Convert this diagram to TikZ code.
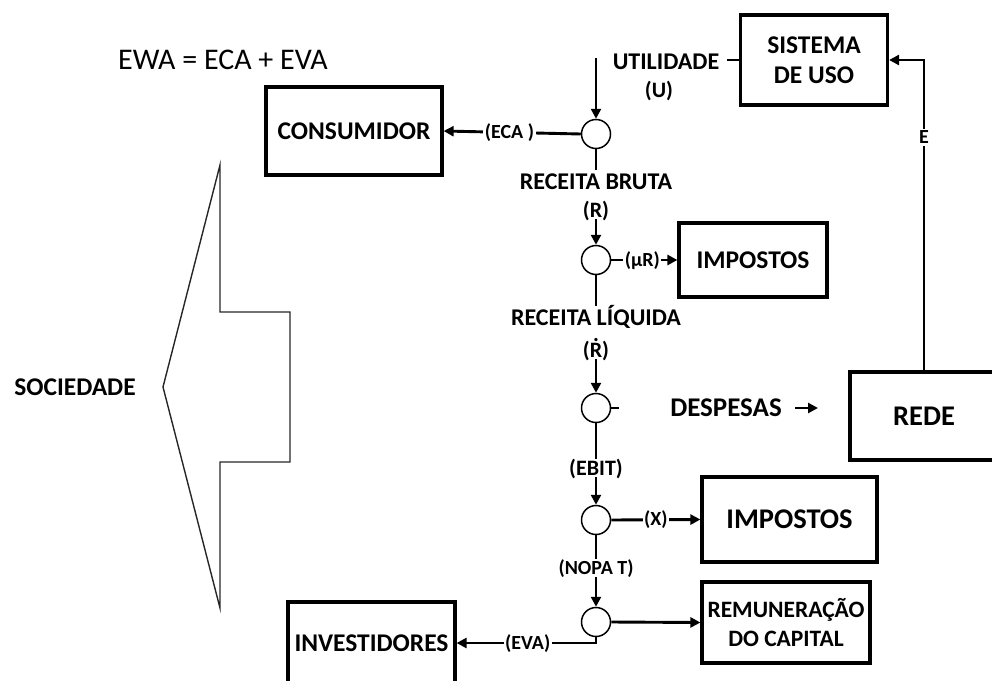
\documentclass[tikz,border=0pt]{standalone}
\usepackage{fontspec}
\setmainfont{Carlito}
\usetikzlibrary{arrows.meta}
\newcommand\Rdotted{\ooalign{R\cr\hidewidth\raisebox{0.70em}{.}\hidewidth\cr}}
\begin{document}
\begin{tikzpicture}[x=1pt,y=-1pt,
  bx/.style={draw, line width=3.2pt, align=center, inner sep=0pt,
             font=\bfseries\fontsize{25.5}{30}\selectfont},
  bigbx/.style={bx, font=\bfseries\fontsize{28.5}{32}\selectfont},
  lbl/.style={font=\bfseries\fontsize{24}{28}\selectfont, inner sep=4pt,
              text height=15.5pt, text depth=0pt},
  mid/.style={font=\bfseries\fontsize{22}{24}\selectfont, inner sep=2pt,
              text height=14pt, text depth=0pt},
  sm/.style={font=\bfseries\fontsize{20}{22}\selectfont, fill=white,
             inner sep=1.5pt, text height=13pt, text depth=1pt},
  junc/.style={circle, draw, line width=1.5pt, minimum size=29pt,
               inner sep=0pt, fill=white},
  conn/.style={line width=2.9pt},
  arr/.style={conn, -{Triangle[length=10pt,width=10pt]}}
]
\useasboundingbox (0,0) rectangle (992,680);
\clip (0,0) rectangle (992,680);

% title and society arrow
\node[font=\fontsize{30}{32}\selectfont] (ewa) at (223,60) {EWA = ECA + EVA};
\node[font=\bfseries\fontsize{25.5}{28}\selectfont] (soc) at (75,387) {SOCIEDADE};
\draw[line width=1.4pt, draw=black!85, line join=miter]
  (163,387) -- (220,165) -- (220,312) -- (290,312) -- (290,462)
  -- (220,462) -- (220,608) -- cycle;

% boxes
\node[bx, minimum width=147pt, minimum height=90pt] (sist) at (814,60) {SISTEMA\\DE USO};
\node[bx, minimum width=176pt, minimum height=88pt] (cons) at (354,131) {CONSUMIDOR};
\node[bx, minimum width=148pt, minimum height=74pt] (imp1) at (753,260) {IMPOSTOS};
\node[bigbx, minimum width=148pt, minimum height=88pt] (rede) at (924,416) {REDE};
\node[bigbx, minimum width=175pt, minimum height=85pt] (imp2) at (789.5,519.5) {IMPOSTOS};
\node[bx, minimum width=168pt, minimum height=81pt,
      font=\bfseries\fontsize{23.5}{29}\selectfont] (rem) at (786,622.5) {REMUNERAÇÃO\\DO CAPITAL};
\node[bx, minimum width=167pt, minimum height=82pt] (inv) at (371.5,643) {INVESTIDORES};

% junctions
\node[junc] (c1) at (596,134) {};
\node[junc] (c2) at (596,260) {};
\node[junc] (c3) at (596,408) {};
\node[junc] (c4) at (596,520) {};
\node[junc] (c5) at (596,622) {};

% flow labels
\node[lbl] (util) at (666,62) {UTILIDADE};
\node[mid] (utilu) at (659,90) {(U)};
\node[lbl] (rbt) at (596,182) {RECEITA BRUTA};
\node[mid] (rbr) at (596,210) {(R)};
\node[lbl] (rlt) at (596,318) {RECEITA LÍQUIDA};
\node[mid] (rlr) at (596,350) {(\Rdotted)};
\node[mid] (ebit) at (596,468) {(EBIT)};
\node[sm, fill=none] (nopat) at (596,568) {(NOPA T)};
\node[font=\bfseries\fontsize{27}{30}\selectfont] (desp) at (726,408) {DESPESAS};
\coordinate (u0) at (596,58);
\coordinate (stub) at (619,408);
\coordinate (dA) at (818,408);

% connectors
\draw[conn, shorten <=4pt] (util.east |- sist.west) -- (sist.west);
\draw[arr] (u0) -- (c1.north);
\draw[arr] (c1.west) -- node[sm, pos=0.52]{(ECA )} (cons.east);
\draw[conn] (c1.south) -- (rbt.north);
\draw[arr] (rbr.south) -- (c2.north);
\draw[arr] (c2.east) -- node[sm, pos=0.47]{(µR)} (imp1.west);
\draw[conn] (c2.south) -- (rlt.north);
\draw[arr] (rlr.south) -- (c3.north);
\draw[conn] (c3.east) -- (stub);
\draw[arr, shorten <=10pt] (desp.east) -- (dA);
\draw[conn] (c3.south) -- (ebit.north);
\draw[arr] (ebit.south) -- (c4.north);
\draw[arr] (c4.east) -- node[sm, pos=0.5]{(X)} (imp2.west);
\draw[conn] (c4.south) -- (nopat.north);
\draw[arr] (nopat.south) -- (c5.north);
\draw[arr] (c5.east) -- (rem.west);
\draw[arr] (c5.south) |- node[sm, pos=0.745]{(EVA)} (inv.east);
\draw[arr] (rede.north) |- node[sm, pos=0.375]{E} (sist.east);
\end{tikzpicture}
\end{document}
